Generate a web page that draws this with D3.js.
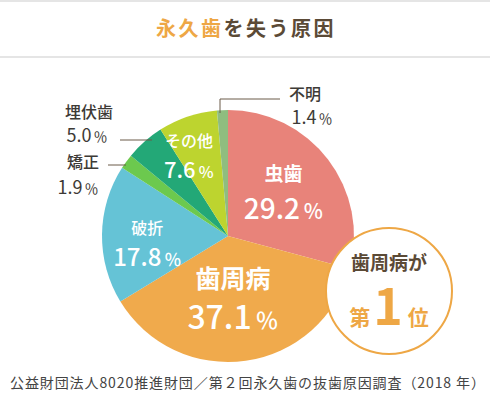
<!DOCTYPE html>
<html>
<head>
<meta charset="utf-8">
<script src="https://cdn.jsdelivr.net/npm/d3@7"></script>
<style>
  body { margin: 0; background: #fff; }
  svg { display: block; font-family: "Noto Sans CJK JP", "Noto Sans", sans-serif; }
</style>
</head>
<body>
<div class="viz"></div>
<script>
// data
var categories = ["虫歯", "歯周病", "破折", "矯正", "埋伏歯", "その他", "不明"];
var values = [29.2, 37.1, 17.8, 1.9, 5.0, 7.6, 1.4];
var colors = ["#e8837a", "#f0aa4c", "#65c3d6", "#6cc94e", "#23a877", "#bdd42f", "#8fbd7f"];

var width = 490,
    height = 393,
    cx = 228,
    cy = 236,
    radius = 126;

var svg = d3.select('.viz').append('svg')
    .attr('width', width)
    .attr('height', height);

// header rules + title
svg.append('line').attr('x1', 0).attr('x2', width).attr('y1', 1).attr('y2', 1)
    .attr('stroke', '#dcdcdc').attr('stroke-width', 1.5);
svg.append('line').attr('x1', 0).attr('x2', width).attr('y1', 57).attr('y2', 57)
    .attr('stroke', '#dcdcdc').attr('stroke-width', 1.5);

var title = svg.append('text')
    .attr('x', 246).attr('y', 36)
    .attr('text-anchor', 'middle')
    .attr('font-size', 20).attr('font-weight', 700)
    .attr('letter-spacing', 2.5);
title.append('tspan').attr('fill', '#eea745').text('永久歯');
title.append('tspan').attr('fill', '#5b4a36').text('を失う原因');

var pie = d3.pie().sort(null).value(d => d.value);
var arc = d3.arc().innerRadius(0).outerRadius(radius);

var slices = pie(categories.map((c, i) => ({name: c, value: values[i], color: colors[i]})));

var g = svg.append('g').attr('transform', 'translate(' + cx + ',' + cy + ')');

g.selectAll('path')
    .data(slices)
    .enter().append('path')
    .attr('d', arc)
    .attr('fill', d => d.data.color);

// inside labels: radius and angle nudge (deg) from the slice mid-angle
var inside = {
    "虫歯":   {r: 71, da: -1,   nameSize: 19, valSize: 28, weight: 700, ny: -11, vy: 27},
    "歯周病": {r: 63, da: 3.6,  nameSize: 25, valSize: 32, weight: 700, ny: -11, vy: 30},
    "破折":   {r: 81, da: -5.7, nameSize: 16, valSize: 24, weight: 500, ny: -9,  vy: 23},
    "その他": {r: 89, da: -7.3, nameSize: 16, valSize: 22, weight: 500, ny: -9,  vy: 22}
};

function pct(sel, v, size, pctSize) {
    sel.append('tspan').text(v.toFixed(1));
    sel.append('tspan').attr('font-size', pctSize).attr('dx', size * 0.12).text('％');
}

slices.forEach(function(d) {
    var l = inside[d.data.name];
    if (!l) return;
    var a = (d.startAngle + d.endAngle) / 2 + l.da * Math.PI / 180;
    var p = d3.pointRadial(a, l.r);
    var t = g.append('g').attr('transform', 'translate(' + p + ')').attr('fill', '#fff').attr('text-anchor', 'middle');
    t.append('text').attr('y', l.ny).attr('font-size', l.nameSize).attr('font-weight', l.weight).text(d.data.name);
    var v = t.append('text').attr('y', l.vy).attr('font-size', l.valSize).attr('font-weight', 500);
    pct(v, d.data.value, l.valSize, l.valSize * 0.72);
});

// outside labels with leader lines (absolute page coords)
var outside = {
    "埋伏歯": {nx: 89, ny: 118, vx: 87, vy: 142, line: [[120, 140], [152, 140]]},
    "矯正":   {nx: 83, ny: 168, vx: 78, vy: 194, line: [[108, 165], [126, 165]]},
    "不明":   {nx: 305, ny: 100, vx: 312, vy: 124, line: [[220, 113], [220, 99], [280, 99]]}
};

slices.forEach(function(d) {
    var l = outside[d.data.name];
    if (!l) return;
    svg.append('path')
        .attr('d', d3.line()(l.line))
        .attr('fill', 'none')
        .attr('stroke', '#6b5a48')
        .attr('stroke-width', 1);
    svg.append('text').attr('x', l.nx).attr('y', l.ny)
        .attr('text-anchor', 'middle').attr('fill', '#3d3a36')
        .attr('font-size', 16).attr('font-weight', 500)
        .text(d.data.name);
    var v = svg.append('text').attr('x', l.vx).attr('y', l.vy)
        .attr('text-anchor', 'middle').attr('fill', '#3d3a36')
        .attr('font-size', 18);
    pct(v, d.data.value, 18, 14);
});

// badge
var badge = svg.append('g').attr('transform', 'translate(389,291)');
badge.append('circle').attr('r', 63)
    .attr('fill', '#fff').attr('stroke', '#eea745').attr('stroke-width', 2);
badge.append('text').attr('y', -21).attr('text-anchor', 'middle')
    .attr('fill', '#5b4a36').attr('font-size', 19).attr('font-weight', 700)
    .text('歯周病が');
var rank = badge.append('text').attr('y', 34).attr('text-anchor', 'middle')
    .attr('fill', '#eea745').attr('font-weight', 700);
rank.append('tspan').attr('font-size', 21).text('第');
rank.append('tspan').attr('font-size', 50).attr('dx', 3).text('1');
rank.append('tspan').attr('font-size', 21).attr('dx', 5).text('位');

// source
svg.append('text')
    .attr('x', 10).attr('y', 388)
    .attr('fill', '#444')
    .attr('font-size', 14)
    .attr('textLength', 475)
    .attr('lengthAdjust', 'spacing')
    .text('公益財団法人8020推進財団／第２回永久歯の抜歯原因調査（2018 年）');
</script>
</body>
</html>
